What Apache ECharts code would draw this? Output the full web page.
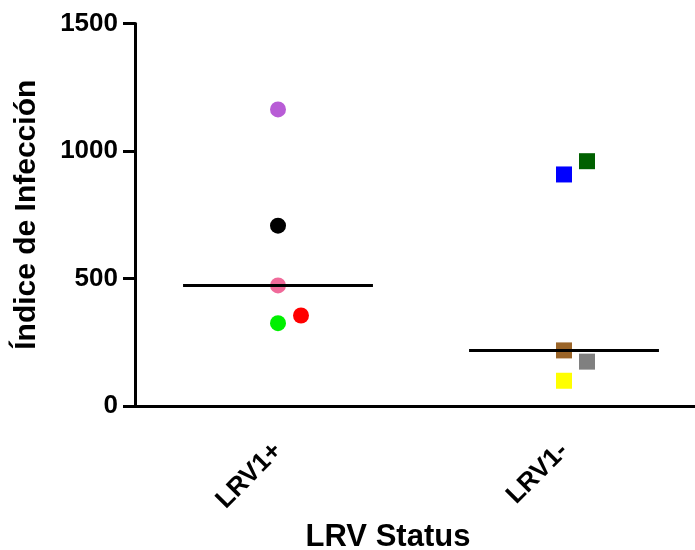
<!DOCTYPE html>
<html>
<head>
<meta charset="utf-8">
<script src="https://cdn.jsdelivr.net/npm/echarts@6/dist/echarts.min.js"></script>
<style>
  html, body { margin: 0; padding: 0; background: #fff; }
  #chart { width: 695px; height: 550px; }
</style>
</head>
<body>
<div id="chart"></div>
<script>
// Groups on the x axis
const categories = ['LRV1+', 'LRV1-'];

// Infection index per sample, LRV1+ group (circles)
const lrvPosValues = [1163, 707, 473, 325, 355];
const lrvPosColors = ['#b85cd6', '#000000', '#f06a9a', '#00f000', '#ff0000'];
const lrvPosShifted = [false, false, false, false, true];

// Infection index per sample, LRV1- group (squares)
const lrvNegValues = [908, 960, 218, 174, 99];
const lrvNegColors = ['#0000ff', '#006000', '#9a6428', '#808080', '#ffff00'];
const lrvNegShifted = [false, true, false, true, false];

// Y axis ticks
const yTicks = [0, 500, 1000, 1500];

const FONT = 'Liberation Sans, Arial, sans-serif';

function median(arr) {
  const s = arr.slice().sort((a, b) => a - b);
  const m = Math.floor(s.length / 2);
  return s.length % 2 ? s[m] : (s[m - 1] + s[m]) / 2;
}

function points(catIdx, values, colors, shifted) {
  return values.map((v, i) => ({
    value: [catIdx, v],
    itemStyle: { color: colors[i], opacity: 1 },
    symbolOffset: shifted[i] ? [23, 0] : [0, 0]
  }));
}

const halfWidth = 0.332;
function medianLine(catIdx, values) {
  const m = median(values);
  return [[catIdx - halfWidth, m], [catIdx + halfWidth, m]];
}

const chart = echarts.init(document.getElementById('chart'), null, { renderer: 'canvas' });

chart.setOption({
  animation: false,
  backgroundColor: '#ffffff',
  grid: {
    left: 135, top: 23.5, width: 572, height: 382.5,
    containLabel: false, outerBoundsMode: 'none'
  },
  xAxis: [
    {
      type: 'category',
      data: categories,
      name: 'LRV Status',
      nameLocation: 'middle',
      nameGap: 116,
      nameTextStyle: {
        fontFamily: FONT, fontWeight: 'bold', fontSize: 31, color: '#000',
        padding: [0, 66, 0, 0]
      },
      axisLine: { lineStyle: { color: '#000', width: 3 } },
      axisTick: { alignWithLabel: true, length: 13, lineStyle: { color: '#000', width: 3 } },
      axisLabel: {
        rotate: 45, margin: 41, interval: 0,
        fontFamily: FONT, fontWeight: 'bold', fontSize: 26, color: '#000'
      },
      splitLine: { show: false }
    },
    {
      type: 'value',
      min: -0.5, max: 1.5,
      show: false,
      position: 'bottom'
    }
  ],
  yAxis: {
    type: 'value',
    min: yTicks[0], max: yTicks[yTicks.length - 1], interval: yTicks[1] - yTicks[0],
    name: 'Índice de Infección',
    nameLocation: 'middle',
    nameGap: 93,
    nameTextStyle: { fontFamily: FONT, fontWeight: 'bold', fontSize: 30, color: '#000' },
    axisLine: { show: true, onZero: false, lineStyle: { color: '#000', width: 3 } },
    axisTick: { show: true, length: 12, lineStyle: { color: '#000', width: 3 } },
    axisLabel: {
      margin: 17, fontFamily: FONT, fontWeight: 'bold', fontSize: 26, color: '#000',
      formatter: v => String(v)
    },
    splitLine: { show: false }
  },
  series: [
    {
      type: 'scatter',
      xAxisIndex: 0,
      symbol: 'circle',
      symbolSize: 16,
      data: points(0, lrvPosValues, lrvPosColors, lrvPosShifted),
      z: 2
    },
    {
      type: 'scatter',
      xAxisIndex: 0,
      symbol: 'rect',
      symbolSize: 16,
      data: points(1, lrvNegValues, lrvNegColors, lrvNegShifted),
      z: 2
    },
    {
      type: 'line',
      xAxisIndex: 1,
      symbol: 'none',
      lineStyle: { color: '#000', width: 3 },
      data: medianLine(0, lrvPosValues),
      z: 3
    },
    {
      type: 'line',
      xAxisIndex: 1,
      symbol: 'none',
      lineStyle: { color: '#000', width: 3 },
      data: medianLine(1, lrvNegValues),
      z: 3
    }
  ]
});
</script>
</body>
</html>
